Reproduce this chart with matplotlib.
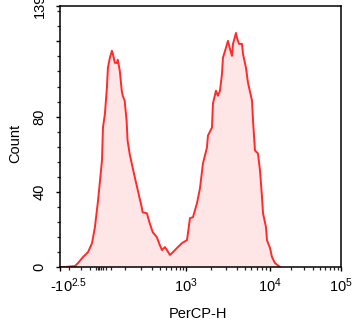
import numpy as np
import matplotlib
matplotlib.use('Agg')
import matplotlib.pyplot as plt
import matplotlib.transforms as mtransforms

plt.rcParams['font.family'] = ['Liberation Sans', 'DejaVu Sans']
plt.rcParams['mathtext.fontset'] = 'custom'
plt.rcParams['mathtext.rm'] = 'Liberation Sans'
plt.rcParams['mathtext.it'] = 'Liberation Sans:italic'
plt.rcParams['mathtext.bf'] = 'Liberation Sans:bold'

# ---- data ----
fluorescence = [-310, -247, -145, -122, -88, -59, -38, -24, -9, 7, 10.5, 17.5, 24.6, 28.3,
                35.6, 43.1, 46.9, 54.8, 62.8, 66.9, 75.6, 84.4, 89, 98.3, 108, 113, 124,
                136, 155, 175, 204, 211, 248, 276, 308, 357, 398, 429, 478, 513, 570, 633,
                729, 869, 1028, 1116, 1211, 1352, 1468, 1593, 1778, 1828, 2040, 2096, 2275,
                2404, 2541, 2685, 2757, 2992, 3162, 3342, 3532, 3630, 3938, 4048, 4278,
                4642, 4772, 5180, 5474, 6109, 6280, 6625, 7194, 7603, 8035, 8260, 8962,
                9204, 10000, 10666, 11749, 13830]
counts = [0, 0, 0.5, 2.1, 5.3, 7.9, 12.7, 21.2, 35.5, 56.7, 74.2, 81.6, 95.4, 106,
          111.3, 115, 113.4, 108.6, 108.6, 110.2, 104.4, 93.8, 91.1, 88.5, 77.9, 67.3, 60.4,
          55.1, 47.7, 40.8, 31.8, 29.1, 28.6, 23.3, 18.5, 15.9, 11.7, 9.0, 10.6, 9.0, 6.4, 7.9,
          10.1, 12.7, 14.3, 26.0, 26.5, 33.9, 41.9, 55.1, 63.6, 69.9, 74.2, 86.9, 93.8,
          91.1, 93.8, 102.8, 111.3, 116.6, 120.3, 116, 112.3, 118.7, 124.5, 121.9, 118.7,
          118.7, 113.4, 106, 98, 88.5, 77.9, 62, 60.4, 51.4, 37.1, 28.6, 21.2,
          14.3, 10.1, 5.3, 2.1, 0]

x_major = [-316.23, 1e3, 1e4, 1e5]
x_major_labels = [r'-$\mathregular{10^{2.5}}$', r'$\mathregular{10^{3}}$',
                  r'$\mathregular{10^{4}}$', r'$\mathregular{10^{5}}$']
x_minor = ([-200, -100, -50, -20, -10, -5, 5, 10, 20, 40] + list(range(100, 1000, 100))
           + list(range(2000, 10000, 1000)) + list(range(20000, 100000, 10000)))
y_major = [0, 40, 80, 120, 139]
y_major_labels = ['0', '40', '80', '', '139']
y_minor = [v for v in range(8, 139, 8) if v % 40 != 0]
x_label = 'PerCP-H'
y_label = 'Count'

# ---- biexponential-like display scale ----
_anchor_vals = np.array([-3162.3, -316.23, 0, 100, 1000, 1e4, 1e5, 1e6])
_anchor_t = np.arcsinh(_anchor_vals / 100.0)
_anchor_p = np.array([11.3, 60, 100, 125, 186, 270, 341, 412])

def fwd(x):
    return np.interp(np.arcsinh(np.asarray(x, dtype=float) / 100.0), _anchor_t, _anchor_p)

def inv(p):
    return 100.0 * np.sinh(np.interp(np.asarray(p, dtype=float), _anchor_p, _anchor_t))

fig = plt.figure(figsize=(3.6, 3.27), dpi=100)
ax = fig.add_axes([60/360, (327-267)/327, 281/360, (267-5.7)/327])
ax.set_xscale('function', functions=(fwd, inv))

line_col = '#ff2a2a'
fill_col = '#ffe6e6'
ax.fill_between(fluorescence, counts, 0, color=fill_col, linewidth=0)
ax.plot(fluorescence, counts, color=line_col, linewidth=1.4)

ax.set_xlim(-316.23, 1e5)
ax.set_ylim(0, 139)

ax.set_xticks(x_major)
ax.set_xticklabels(x_major_labels)
ax.set_xticks(x_minor, minor=True)
ax.set_yticks(y_major)
ax.set_yticklabels(y_major_labels)
ax.set_yticks(y_minor, minor=True)

for s in ax.spines.values():
    s.set_linewidth(1.1)
ax.tick_params(axis='both', which='major', length=3.2, width=1.0, labelsize=10.5, color='black')
ax.tick_params(axis='both', which='minor', length=2.0, width=0.9, color='#222222')
ax.tick_params(axis='x', which='major', pad=3.5)
ax.tick_params(axis='y', which='major', pad=6.5, labelrotation=90)
for lab in ax.get_yticklabels():
    lab.set_va('center')

# shift the first x label to the right as in the reference
first = ax.get_xticklabels()[0]
first.set_transform(first.get_transform() + mtransforms.ScaledTranslation(8.5/100, 0, fig.dpi_scale_trans))

ax.set_xlabel(x_label, fontsize=10.5)
ax.set_ylabel(y_label, fontsize=10.5)
ax.xaxis.set_label_coords(0.49, -(307-267)/261.3)
ax.xaxis.label.set_va('top')
ax.yaxis.set_label_coords(-(60-22)/281, (267-143)/261.3)

fig.savefig('out.png', dpi=100)
